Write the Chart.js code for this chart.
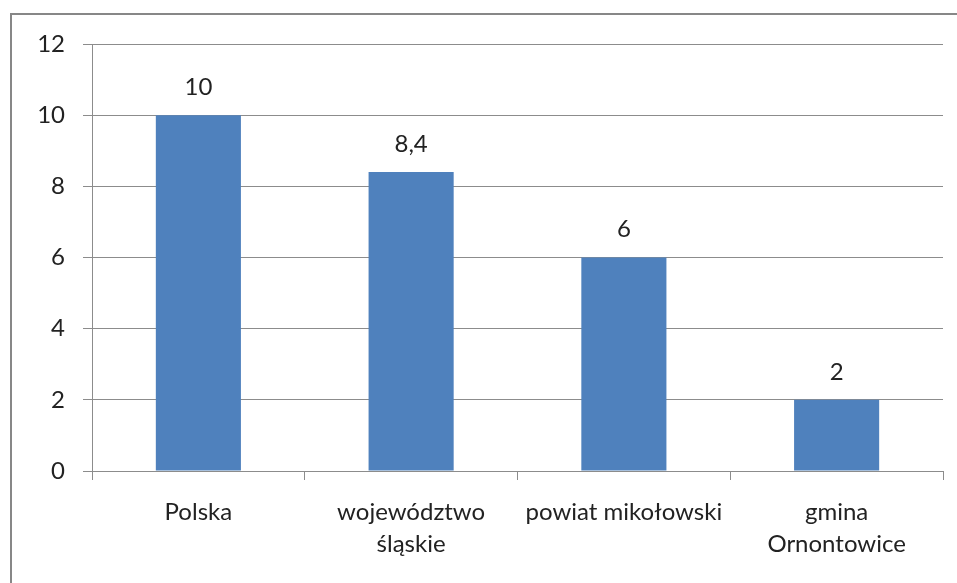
<!DOCTYPE html>
<html>
<head>
<meta charset="utf-8">
<script src="https://cdn.jsdelivr.net/npm/chart.js@4"></script>
<style>
  html, body { margin: 0; padding: 0; background: #fff; }
  #wrap { width: 957px; height: 583px; }
</style>
</head>
<body>
<div id="wrap"><canvas id="grafico" width="957" height="583"></canvas></div>
<script>
// Dane wykresu
const kategorie = [["Polska"], ["województwo", "śląskie"], ["powiat mikołowski"], ["gmina", "Ornontowice"]];
const wartosci = [10, 8.4, 6, 2];
const osY = { min: 0, max: 12, krok: 2 };

const kolorSlupka = "#4F81BD";
const kolorSiatki = "#8C8C8C";
const czcionka = "Lato, 'Open Sans', sans-serif";

// Ramka wokół całego wykresu
const ramka = {
  id: "ramka",
  beforeDraw(chart) {
    const ctx = chart.ctx;
    ctx.save();
    ctx.strokeStyle = "#878787";
    ctx.lineWidth = 2;
    ctx.strokeRect(11, 14, 960, 600);
    ctx.restore();
  }
};

// Etykiety wartości nad słupkami
const etykiety = {
  id: "etykiety",
  afterDatasetsDraw(chart) {
    const ctx = chart.ctx;
    const meta = chart.getDatasetMeta(0);
    ctx.save();
    ctx.font = "24px " + czcionka;
    ctx.fillStyle = "#222";
    ctx.textAlign = "center";
    ctx.textBaseline = "middle";
    meta.data.forEach((bar, i) => {
      const txt = String(wartosci[i]).replace(".", ",");
      ctx.fillText(txt, bar.x, bar.y - 28);
    });
    ctx.restore();
  }
};

new Chart(document.getElementById("grafico"), {
  type: "bar",
  data: {
    labels: kategorie,
    datasets: [{
      data: wartosci,
      backgroundColor: kolorSlupka,
      barPercentage: 0.4,
      categoryPercentage: 1
    }]
  },
  options: {
    responsive: false,
    animation: false,
    layout: { padding: { top: 44, right: 14, left: 0, bottom: 0 } },
    plugins: { legend: { display: false }, tooltip: { enabled: false } },
    scales: {
      x: {
        grid: { drawOnChartArea: false, drawTicks: true, tickLength: 9, color: kolorSiatki },
        border: { color: kolorSiatki },
        ticks: {
          color: "#222",
          padding: 16,
          maxRotation: 0,
          autoSkip: false,
          font: { family: czcionka, size: 24, lineHeight: 1.35 }
        },
        afterFit(scale) { scale.height = 112; }
      },
      y: {
        min: osY.min,
        max: osY.max,
        grid: { color: kolorSiatki, tickLength: 9 },
        border: { color: kolorSiatki },
        ticks: {
          stepSize: osY.krok,
          color: "#222",
          padding: 18,
          font: { family: czcionka, size: 24 }
        },
        afterFit(scale) { scale.width = 92; }
      }
    }
  },
  plugins: [ramka, etykiety]
});
</script>
</body>
</html>
